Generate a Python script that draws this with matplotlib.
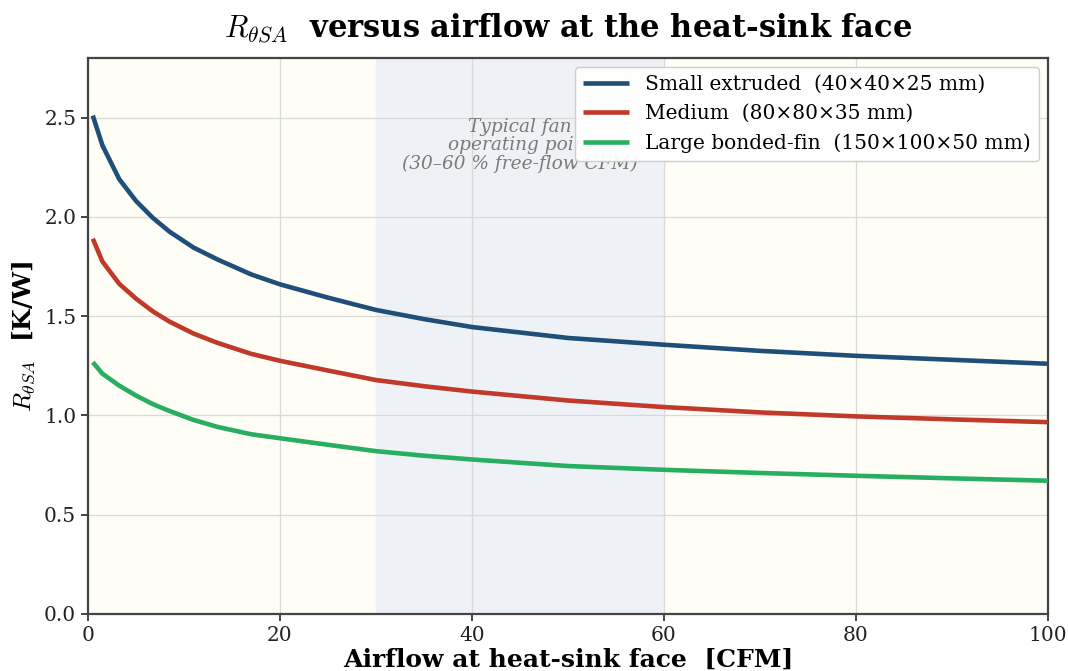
import numpy as np
import matplotlib
matplotlib.use("Agg")
import matplotlib.pyplot as plt

plt.rcParams['font.family'] = 'DejaVu Serif'
plt.rcParams['mathtext.fontset'] = 'cm'

# airflow [CFM] and R_theta_SA [K/W]
airflow = [0.5, 1.5, 3.25, 5, 6.75, 8.5, 11, 13.5, 17, 20, 25, 30, 35, 40, 50, 60, 70, 80, 90, 100]
r_small = [2.51, 2.36, 2.19, 2.08, 1.995, 1.925, 1.845, 1.785, 1.71, 1.66, 1.593, 1.531, 1.485,
           1.445, 1.39, 1.356, 1.325, 1.30, 1.28, 1.26]
r_medium = [1.89, 1.775, 1.663, 1.588, 1.524, 1.472, 1.412, 1.365, 1.31, 1.275, 1.226, 1.178,
            1.147, 1.12, 1.075, 1.042, 1.015, 0.995, 0.98, 0.966]
r_large = [1.268, 1.21, 1.15, 1.10, 1.057, 1.022, 0.977, 0.942, 0.905, 0.885, 0.852, 0.82,
           0.797, 0.778, 0.745, 0.726, 0.71, 0.696, 0.683, 0.671]

labels = ["Small extruded  (40\u00d740\u00d725 mm)",
          "Medium  (80\u00d780\u00d735 mm)",
          "Large bonded-fin  (150\u00d7100\u00d750 mm)"]
colors = ["#1f4e79", "#c0392b", "#27ae60"]
fan_band = (30, 60)

fig = plt.figure(figsize=(10.68, 6.71), dpi=100)
ax = fig.add_axes([0.0824, 0.085, 0.8988, 0.8286])
ax.set_facecolor("#fefef6")

ax.axvspan(fan_band[0], fan_band[1], color="#eef2f6", zorder=0)
ax.grid(True, color="#d9d9d9", linewidth=0.9, zorder=1)
ax.set_axisbelow(True)

for ys, lab, c in zip([r_small, r_medium, r_large], labels, colors):
    ax.plot(airflow, ys, color=c, lw=3.3, label=lab, zorder=3,
            solid_capstyle="butt", solid_joinstyle="round")

ax.text(45, 2.36, "Typical fan\noperating point\n(30\u201360 % free-flow CFM)",
        ha="center", va="center", style="italic", color="#7a7a7a", fontsize=13.3,
        linespacing=1.05, zorder=2)

ax.set_xlim(0, 100)
ax.set_ylim(0, 2.8)
ax.set_xticks([0, 20, 40, 60, 80, 100])
ax.set_yticks([0.0, 0.5, 1.0, 1.5, 2.0, 2.5])
ax.tick_params(labelsize=14.5, length=5, width=1.2, colors="#222222")
for s in ax.spines.values():
    s.set_color("#444444")
    s.set_linewidth(1.6)

ax.set_xlabel("Airflow at heat-sink face  [CFM]", fontsize=18, fontweight="bold", labelpad=2)
ax.set_ylabel(r"$R_{\theta SA}$  [K/W]", fontsize=18, fontweight="bold", labelpad=5)
ax.set_title(r"$R_{\theta SA}$  versus airflow at the heat-sink face", fontsize=22,
             fontweight="bold", pad=15)

leg = ax.legend(loc="upper right", fontsize=14.5, frameon=True, framealpha=0.95,
                edgecolor="#cccccc", handlelength=2.3, borderaxespad=0.45)
leg.set_zorder(5)

fig.savefig("out.png", dpi=100)
